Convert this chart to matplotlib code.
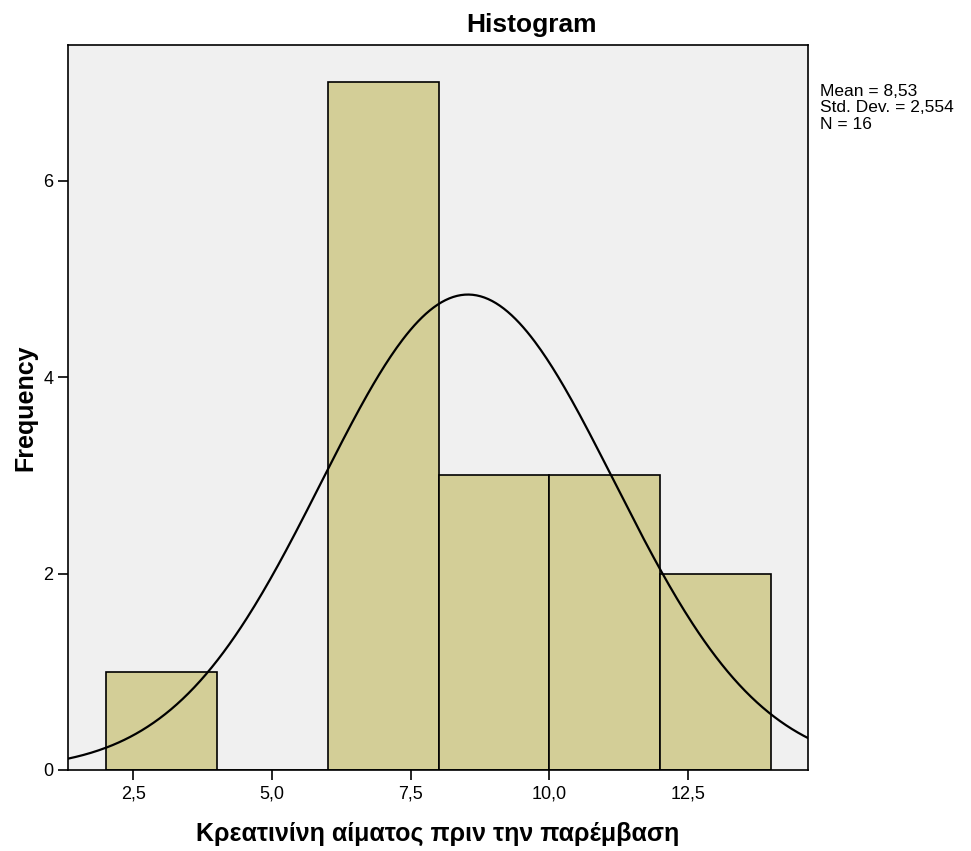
import numpy as np
import matplotlib
matplotlib.use("Agg")
import matplotlib.pyplot as plt
from matplotlib.ticker import FuncFormatter

plt.rcParams['font.family'] = ['Liberation Sans', 'DejaVu Sans']

# data
bin_edges = [2, 4, 6, 8, 10, 12, 14]
counts = [1, 0, 7, 3, 3, 2]
mean_val = 8.53
std_val = 2.554
n_val = 16
x_ticks = [2.5, 5.0, 7.5, 10.0, 12.5]
y_ticks = [0, 2, 4, 6]

W, H = 971, 851
fig = plt.figure(figsize=(W / 100, H / 100), dpi=100)
fig.patch.set_facecolor('white')

# plot area in pixels: left 68, right 808, top 45, bottom 770
ax = fig.add_axes([68 / W, (H - 770) / H, 740 / W, 725 / H])
ax.set_facecolor('#F0F0F0')

widths = np.diff(bin_edges)
ax.bar(bin_edges[:-1], counts, width=widths, align='edge',
       color='#D3CE97', edgecolor='black', linewidth=1.2, zorder=2)

# normal curve scaled to the histogram (curve uses the population-style sd)
bw = bin_edges[1] - bin_edges[0]
sd_curve = std_val * np.sqrt(n_val / (n_val - 1))
xs = np.linspace(1.0, 15.0, 400)
ys = n_val * bw / (sd_curve * np.sqrt(2 * np.pi)) * np.exp(-(xs - mean_val) ** 2 / (2 * sd_curve ** 2))
ax.plot(xs, ys, color='black', linewidth=1.6, zorder=3)

ax.set_xlim(1.32, 14.66)
ax.set_ylim(0, 7.38)
ax.set_xticks(x_ticks)
ax.set_yticks(y_ticks)
ax.xaxis.set_major_formatter(FuncFormatter(lambda v, p: f"{v:.1f}".replace('.', ',')))
ax.tick_params(axis='both', direction='out', length=7, width=1.2, labelsize=13, color='black')
ax.tick_params(axis='x', pad=4)
for sp in ax.spines.values():
    sp.set_linewidth(1.2)
    sp.set_color('black')

ax.set_xlabel('Κρεατινίνη αίματος πριν την παρέμβαση', fontsize=18, fontweight='bold', labelpad=14)
ax.set_ylabel('Frequency', fontsize=18, fontweight='bold', labelpad=4)

fig.text(532 / W, 1 - 25 / H, 'Histogram', fontsize=19, fontweight='bold',
         ha='center', va='center')

stats = f"Mean = {mean_val:.2f}\nStd. Dev. = {std_val:.3f}\nN = {n_val}".replace('.', ',')
stats = stats.replace('Std, Dev,', 'Std. Dev.')
fig.text(820 / W, 1 - 84 / H, stats, fontsize=12.5, ha='left', va='top', linespacing=1.12)

fig.savefig('out.png', dpi=100)
